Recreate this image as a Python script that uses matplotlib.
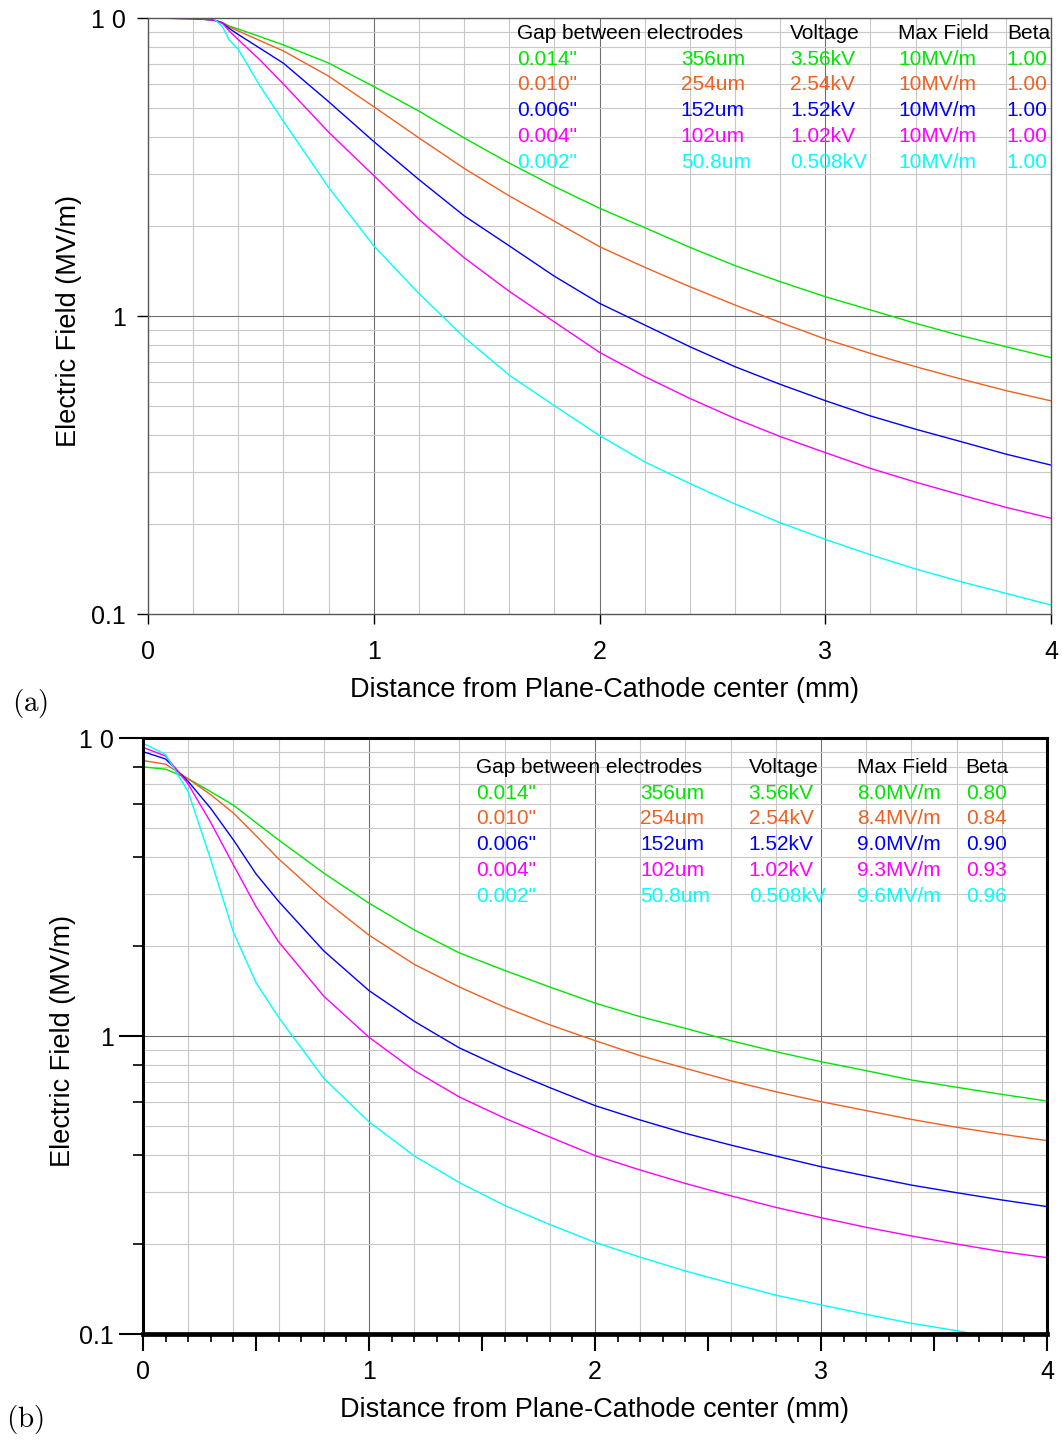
import numpy as np
import matplotlib
matplotlib.use("Agg")
import matplotlib.pyplot as plt
from matplotlib.ticker import FixedLocator, NullFormatter

plt.rcParams["font.family"] = ["Liberation Sans", "DejaVu Sans"]
plt.rcParams["mathtext.fontset"] = "cm"

# -------------------------
# Data: field along the cathode (MV/m) vs distance (mm)
# -------------------------
gaps_in = ['0.014"', '0.010"', '0.006"', '0.004"', '0.002"']
gaps_um = ["356um", "254um", "152um", "102um", "50.8um"]
voltages = ["3.56kV", "2.54kV", "1.52kV", "1.02kV", "0.508kV"]
colors = ["#00e600", "#f06020", "#0000ff", "#ff00ff", "#00ffff"]

# (a) ideal plane cathode
max_field_a = ["10MV/m"] * 5
beta_a = ["1.00"] * 5
x_a = [0, 0.2, 0.29, 0.33, 0.36, 0.4, 0.5, 0.6, 0.8, 1.0, 1.2, 1.4, 1.6, 1.8,
       2.0, 2.2, 2.4, 2.6, 2.8, 3.0, 3.2, 3.4, 3.6, 3.8, 4.0]
green_a = [10, 9.95, 9.85, 9.65, 9.4, 9.18, 8.64, 8.12, 7.06, 5.89, 4.87, 3.96, 3.26, 2.72,
           2.30, 1.98, 1.70, 1.476, 1.304, 1.161, 1.048, 0.945, 0.859, 0.789, 0.725]
orange_a = [10, 9.95, 9.85, 9.64, 9.33, 9.05, 8.37, 7.75, 6.38, 5.04, 3.96, 3.13, 2.53, 2.08,
            1.709, 1.457, 1.254, 1.089, 0.952, 0.837, 0.749, 0.676, 0.615, 0.562, 0.519]
blue_a = [10, 9.95, 9.85, 9.62, 9.22, 8.8, 7.88, 7.05, 5.24, 3.85, 2.87, 2.17, 1.72, 1.36,
          1.103, 0.933, 0.789, 0.676, 0.590, 0.520, 0.462, 0.417, 0.379, 0.344, 0.316]
magenta_a = [10, 9.95, 9.85, 9.6, 9.04, 8.46, 7.18, 6.0, 4.14, 2.96, 2.11, 1.57, 1.21, 0.955,
             0.755, 0.626, 0.529, 0.453, 0.394, 0.348, 0.308, 0.277, 0.251, 0.228, 0.2095]
cyan_a = [10, 10, 9.97, 9.35, 8.43, 7.85, 5.85, 4.5, 2.70, 1.72, 1.19, 0.849, 0.633, 0.500,
          0.397, 0.324, 0.274, 0.234, 0.2025, 0.178, 0.158, 0.1416, 0.1284, 0.1173, 0.1072]

# (b) with field enhancement factor beta
max_field_b = ["8.0MV/m", "8.4MV/m", "9.0MV/m", "9.3MV/m", "9.6MV/m"]
beta_b = ["0.80", "0.84", "0.90", "0.93", "0.96"]
x_b = [0, 0.1, 0.2, 0.3, 0.4, 0.5, 0.6, 0.8, 1.0, 1.2, 1.4, 1.6, 1.8,
       2.0, 2.2, 2.4, 2.6, 2.8, 3.0, 3.2, 3.4, 3.6, 3.8, 4.0]
green_b = [8.0, 7.86, 7.3, 6.6, 5.95, 5.2, 4.55, 3.52, 2.79, 2.27, 1.90, 1.66, 1.46,
           1.29, 1.161, 1.061, 0.965, 0.886, 0.820, 0.765, 0.712, 0.673, 0.637, 0.605]
orange_b = [8.4, 8.17, 7.3, 6.45, 5.6, 4.7, 3.93, 2.87, 2.18, 1.74, 1.46, 1.25, 1.09,
            0.965, 0.859, 0.779, 0.708, 0.650, 0.602, 0.562, 0.525, 0.494, 0.468, 0.4455]
blue_b = [9.0, 8.5, 7.15, 5.8, 4.55, 3.5, 2.83, 1.93, 1.42, 1.12, 0.912, 0.776, 0.671,
          0.584, 0.5225, 0.4714, 0.4307, 0.3957, 0.3642, 0.339, 0.316, 0.298, 0.2817, 0.2676]
magenta_b = [9.3, 8.7, 7.0, 5.2, 3.75, 2.72, 2.07, 1.36, 0.99, 0.766, 0.624, 0.530, 0.458,
             0.397, 0.355, 0.320, 0.291, 0.266, 0.2457, 0.228, 0.2133, 0.2004, 0.189, 0.1804]
cyan_b = [9.6, 8.8, 6.6, 3.9, 2.23, 1.51, 1.155, 0.721, 0.515, 0.396, 0.322, 0.270, 0.233,
          0.203, 0.181, 0.1627, 0.148, 0.135, 0.1252, 0.1164, 0.1086, 0.1026, 0.096, 0.091]

series_a = [green_a, orange_a, blue_a, magenta_a, cyan_a]
series_b = [green_b, orange_b, blue_b, magenta_b, cyan_b]

W, H = 1063, 1441
fig = plt.figure(figsize=(W / 100, H / 100), dpi=100)


def px_axes(left, top, right, bottom):
    return fig.add_axes([left / W, 1 - bottom / H, (right - left) / W, (bottom - top) / H])


def draw_grid(ax):
    for x in np.arange(0.2, 4.0, 0.2):
        if abs(x - round(x)) > 1e-6:
            ax.axvline(x, color="#c8c8c8", lw=0.8, zorder=0)
    for x in [1, 2, 3]:
        ax.axvline(x, color="#707070", lw=0.8, zorder=0)
    for d in [0.1, 1]:
        for k in range(2, 10):
            ax.axhline(k * d, color="#c8c8c8", lw=0.8, zorder=0)
    ax.axhline(1, color="#707070", lw=0.8, zorder=0)


def draw_table(ax, cols, rows, max_field, beta):
    hdr_y, dy = rows
    heads = ["Gap between electrodes", "Voltage", "Max Field", "Beta"]
    for c, h in zip([cols[0], cols[2], cols[3], cols[4]], heads):
        ax.text(c, hdr_y, h, transform=ax.transAxes, fontsize=15, va="center", ha="left")
    for i in range(5):
        y = hdr_y - (i + 1) * dy
        vals = [gaps_in[i], gaps_um[i], voltages[i], max_field[i], beta[i]]
        for c, v in zip(cols, vals):
            ax.text(c, y, v, transform=ax.transAxes, fontsize=15, va="center",
                    ha="left", color=colors[i])


def setup(ax):
    ax.set_yscale("log")
    ax.set_xlim(0, 4)
    ax.set_ylim(0.1, 10)
    ax.yaxis.set_major_locator(FixedLocator([0.1, 1, 10]))
    ax.set_yticklabels(["0.1", "1", "1 0"], fontsize=18)
    ax.set_xlabel("Distance from Plane-Cathode center (mm)", fontsize=19.5)
    ax.set_ylabel("Electric Field (MV/m)", fontsize=19.5)
    draw_grid(ax)


# -------------------------
# (a)
# -------------------------
ax1 = px_axes(148, 18, 1051, 614)
setup(ax1)
for ys, c in zip(series_a, colors):
    ax1.plot(x_a, ys, color=c, lw=1.0)
ax1.set_xticks([0, 1, 2, 3, 4])
ax1.set_xticklabels(["0", "1", "2", "3", "4"], fontsize=18)
ax1.yaxis.set_minor_locator(FixedLocator([]))
ax1.yaxis.set_minor_formatter(NullFormatter())
ax1.tick_params(axis="x", length=7, width=1, pad=12)
ax1.tick_params(axis="y", length=8, width=1, pad=8)
for s in ax1.spines.values():
    s.set_color("#555555")
    s.set_linewidth(1.0)
ax1.xaxis.set_label_coords(0.5055, -0.105)
ax1.yaxis.set_label_coords(-0.073, 0.4916)
draw_table(ax1, [0.4086, 0.590, 0.711, 0.8306, 0.951], (0.974, 0.0432), max_field_a, beta_a)

# -------------------------
# (b)
# -------------------------
ax2 = px_axes(143, 738, 1047, 1334)
setup(ax2)
for ys, c in zip(series_b, colors):
    ax2.plot(x_b, ys, color=c, lw=1.0)
ax2.set_xticks(np.arange(0, 4.01, 0.5))
ax2.set_xticklabels(["0", "", "1", "", "2", "", "3", "", "4"], fontsize=18)
ax2.xaxis.set_minor_locator(FixedLocator(np.arange(0, 4.01, 0.1)))
ax2.yaxis.set_minor_locator(FixedLocator([0.2, 0.4, 0.6, 0.8, 2, 4, 6, 8]))
ax2.yaxis.set_minor_formatter(NullFormatter())
ax2.tick_params(axis="x", which="major", length=12, width=1.5, pad=7)
ax2.tick_params(axis="x", which="minor", length=6, width=1.2)
ax2.tick_params(axis="y", which="major", length=17, width=1.5, pad=4)
ax2.tick_params(axis="y", which="minor", length=7, width=1.2)
for name, s in ax2.spines.items():
    s.set_color("black")
    s.set_linewidth(3.4 if name == "bottom" else 2.2)
ax2.xaxis.set_label_coords(0.5, -0.105)
ax2.yaxis.set_label_coords(-0.074, 0.4916)
draw_table(ax2, [0.368, 0.550, 0.670, 0.790, 0.910], (0.951, 0.0433), max_field_b, beta_b)

# panel labels
fig.text(30 / W, 1 - 703 / H, r"$\mathrm{(a)}$", fontsize=21, ha="center", va="center")
fig.text(25 / W, 1 - 1420 / H, r"$\mathrm{(b)}$", fontsize=21, ha="center", va="center")

fig.savefig("out.png", dpi=100)
